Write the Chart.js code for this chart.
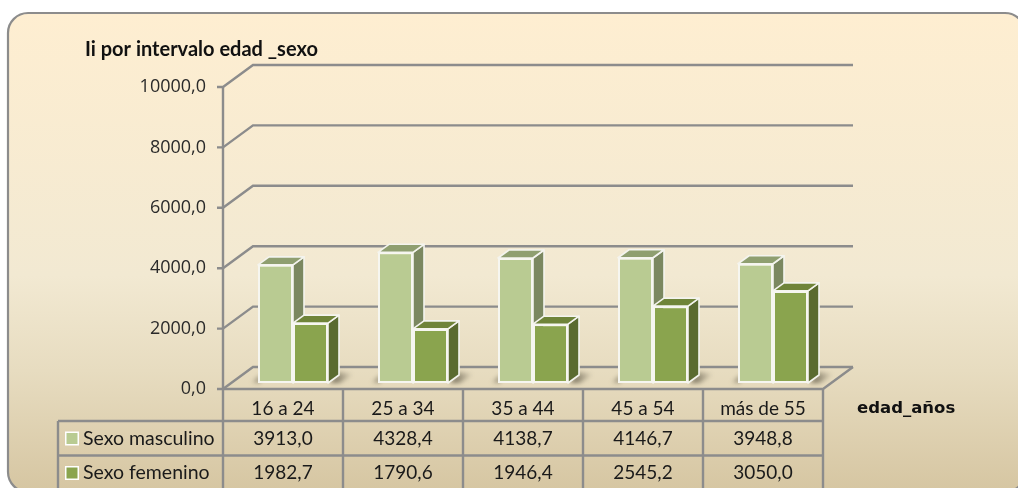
<!DOCTYPE html>
<html><head><meta charset="utf-8">
<style>html,body{margin:0;padding:0;background:#fff}canvas{display:block}</style>
<script src="https://cdn.jsdelivr.net/npm/chart.js@4"></script>
</head><body><canvas id="c" width="1018" height="488"></canvas>
<script>
const categories = ['16 a 24','25 a 34','35 a 44','45 a 54','más de 55'];
const seriesNames = ['Sexo masculino','Sexo femenino'];
const masculino = [3913.0,4328.4,4138.7,4146.7,3948.8];
const femenino = [1982.7,1790.6,1946.4,2545.2,3050.0];
const chartTitle = 'Ii por intervalo edad _sexo';
const xTitle = 'edad_años';
const palette = [
  {front:'#b9cb92',top:'#8f9f70',side:'#7b8860'},
  {front:'#8aa44e',top:'#6f8439',side:'#5a6b30'}
];
const LINE='#8c8c8c', DX=11, DY=8;
const fmt=v=>v.toFixed(1).replace('.',',');
const bodyFont='Lato, sans-serif';

function poly(ctx,pts,fill,stroke,lw){
  ctx.beginPath();pts.forEach((p,i)=>i?ctx.lineTo(p[0],p[1]):ctx.moveTo(p[0],p[1]));ctx.closePath();
  if(fill){ctx.fillStyle=fill;ctx.fill();}
  if(stroke){ctx.strokeStyle=stroke;ctx.lineWidth=lw;ctx.lineJoin='round';ctx.stroke();}
}
function seg(ctx,pts,lw,color){
  ctx.beginPath();pts.forEach((p,i)=>i?ctx.lineTo(p[0],p[1]):ctx.moveTo(p[0],p[1]));
  ctx.strokeStyle=color||LINE;ctx.lineWidth=lw||2;ctx.lineJoin='miter';ctx.stroke();
}
const frame3d={
  id:'frame3d',
  beforeDraw(chart){
    const ctx=chart.ctx;ctx.save();
    const g=ctx.createLinearGradient(0,13,0,490);
    g.addColorStop(0,'#feeed1');g.addColorStop(.55,'#f2e9d2');g.addColorStop(.75,'#e7dcc0');g.addColorStop(1,'#d6c6a2');
    ctx.beginPath();ctx.roundRect(8,13,1017,479,20);
    ctx.fillStyle=g;ctx.fill();ctx.strokeStyle=LINE;ctx.lineWidth=2.2;ctx.stroke();
    ctx.restore();
  },
  beforeDatasetsDraw(chart){
    const {ctx,scales:{x,y},chartArea:a}=chart;ctx.save();
    const L=a.left-10,R=a.right-10,dep=30,fo=6,bo=-16;
    y.ticks.forEach(t=>{
      const py=y.getPixelForValue(t.value);
      seg(ctx,[[L-6,py+fo],[L,py+fo],[L+dep,py+bo],[R+dep,py+bo]],2.4);
    });
    const p0=y.getPixelForValue(0);
    seg(ctx,[[L,y.getPixelForValue(y.max)+fo],[L,p0+fo]],2.4);
    seg(ctx,[[L,p0+fo],[R,p0+fo],[R+dep,p0+bo]],2.4);
    // soft floor shadows
    chart.getDatasetMeta(1).data.forEach(b=>{
      const xr=b.x+b.width/2,base=b.base,xl=b.x-b.width*1.5;
      ctx.save();ctx.filter='blur(2px)';
      const g=ctx.createLinearGradient(xr,base,xr+26,base-6);
      g.addColorStop(0,'rgba(70,65,50,.85)');g.addColorStop(1,'rgba(70,65,50,0)');
      poly(ctx,[[xr+2,base],[xr+DX,base-DY-3],[xr+26,base-9],[xr+12,base]],g);
      const g2=ctx.createLinearGradient(xl-8,base,xl+2,base);
      g2.addColorStop(0,'rgba(70,65,50,0)');g2.addColorStop(1,'rgba(70,65,50,.55)');
      poly(ctx,[[xl+2,base],[xl-7,base],[xl+2,base-8]],g2);
      ctx.restore();
    });
    // 3D top and side of each bar (fronts come from the library)
    chart.data.datasets.forEach((d,i)=>{
      chart.getDatasetMeta(i).data.forEach(b=>{
        const xl=b.x-b.width/2,xr=b.x+b.width/2,yt=b.y,yb=b.base,c=palette[i];
        poly(ctx,[[xr,yt],[xr+DX,yt-DY],[xr+DX,yb-DY],[xr,yb]],c.side,'#f4f4ee',1.6);
        poly(ctx,[[xl,yt],[xl+DX,yt-DY],[xr+DX,yt-DY],[xr,yt]],c.top,'#f4f4ee',1.6);
      });
    });
    ctx.restore();
  },
  afterDraw(chart){
    const {ctx,scales:{x,y},chartArea:a}=chart;ctx.save();
    const L=a.left-10,R=a.right-10,top=y.getPixelForValue(0)+6;
    const tLeft=58,r1=421,r2=455.5,bot=495;
    const step=(R-L)/categories.length;
    for(let i=0;i<=categories.length;i++){seg(ctx,[[L+i*step,top],[L+i*step,bot]],2.4);}
    seg(ctx,[[tLeft,r1],[R,r1]],2.4);seg(ctx,[[tLeft,r2],[R,r2]],2.4);seg(ctx,[[tLeft,r1],[tLeft,bot]],2.4);
    ctx.textBaseline='middle';
    chart.data.datasets.forEach((d,i)=>{
      const cy=i?473:438.5;
      ctx.fillStyle='#fff';ctx.fillRect(65,cy-7,14,14);
      ctx.fillStyle=palette[i].front;ctx.fillRect(66.5,cy-5.5,11,11);
      ctx.fillStyle='#1a1a1a';ctx.font='19.5px '+bodyFont;ctx.textAlign='left';
      ctx.fillText(d.label,83,cy);
      ctx.font='19px '+bodyFont;ctx.textAlign='center';
      d.data.forEach((v,k)=>ctx.fillText(fmt(v),L+(k+.5)*step,cy));
    });
    ctx.fillStyle='#111';ctx.font='bold 16.5px "DejaVu Sans", sans-serif';ctx.textAlign='left';
    ctx.fillText(xTitle,857,408.5);
    ctx.restore();
  }
};
new Chart(document.getElementById('c'),{
  type:'bar',
  data:{labels:categories,datasets:[
    {label:seriesNames[0],data:masculino,backgroundColor:palette[0].front,borderColor:'#f6f6f0',borderWidth:2,borderSkipped:false},
    {label:seriesNames[1],data:femenino,backgroundColor:palette[1].front,borderColor:'#f6f6f0',borderWidth:2,borderSkipped:false}
  ]},
  options:{
    responsive:false,animation:false,
    layout:{padding:{left:85,right:185,top:38,bottom:0}},
    datasets:{bar:{categoryPercentage:70/120,barPercentage:1}},
    plugins:{
      legend:{display:false},tooltip:{enabled:false},
      title:{display:true,text:chartTitle,align:'start',color:'#111',
        font:{family:bodyFont,size:20,weight:'bold',lineHeight:1.2},padding:{top:0,bottom:19}}
    },
    scales:{
      x:{
        grid:{display:false,drawTicks:false},border:{display:false},
        ticks:{color:'#1a1a1a',font:{family:bodyFont,size:19},padding:14,labelOffset:-10,maxRotation:0},
        afterFit(s){s.height=105;}
      },
      y:{
        min:0,max:10000,
        grid:{display:false,drawTicks:false},border:{display:false},
        ticks:{stepSize:2000,padding:27,labelOffset:6,color:'#2a2a2a',
          font:{family:'"Open Sans", sans-serif',size:18},callback:v=>fmt(v)},
        afterFit(s){s.width=148;}
      }
    }
  },
  plugins:[frame3d]
});
</script></body></html>
